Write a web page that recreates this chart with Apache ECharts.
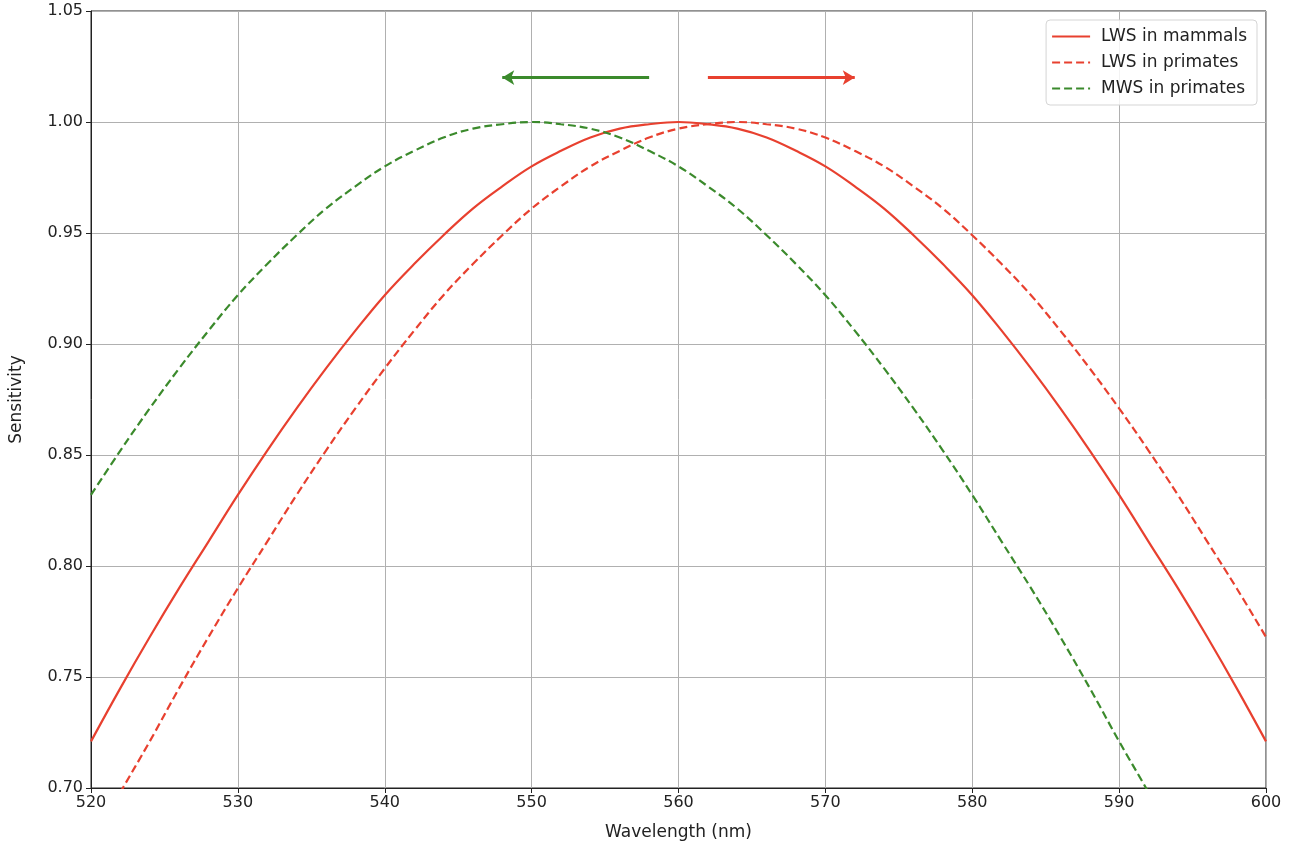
<!DOCTYPE html>
<html>
<head>
<meta charset="utf-8">
<script src="https://cdn.jsdelivr.net/npm/echarts@6/dist/echarts.min.js"></script>
<style>html,body{margin:0;padding:0;background:#fff;}#c{width:1292px;height:848px;}</style>
</head>
<body>
<div id="c"></div>
<script>
const wavelengths = [520,522,524,526,528,530,532,534,536,538,540,542,544,546,548,550,552,554,556,558,560,562,564,566,568,570,572,574,576,578,580,582,584,586,588,590,592,594,596,598,600];
const lwsMammals = [0.721,0.745,0.768,0.790,0.811,0.832,0.852,0.871,0.889,0.906,0.922,0.936,0.949,0.961,0.971,0.980,0.987,0.993,0.997,0.999,1.000,0.999,0.997,0.993,0.987,0.980,0.971,0.961,0.949,0.936,0.922,0.906,0.889,0.871,0.852,0.832,0.811,0.790,0.768,0.745,0.721];
const lwsPrimates = [0.674,0.698,0.721,0.745,0.768,0.790,0.811,0.832,0.852,0.871,0.889,0.906,0.922,0.936,0.949,0.961,0.971,0.980,0.987,0.993,0.997,0.999,1.000,0.999,0.997,0.993,0.987,0.980,0.971,0.961,0.949,0.936,0.922,0.906,0.889,0.871,0.852,0.832,0.811,0.790,0.768];
const mwsPrimates = [0.832,0.852,0.871,0.889,0.906,0.922,0.936,0.949,0.961,0.971,0.980,0.987,0.993,0.997,0.999,1.000,0.999,0.997,0.993,0.987,0.980,0.971,0.961,0.949,0.936,0.922,0.906,0.889,0.871,0.852,0.832,0.811,0.790,0.768,0.745,0.721,0.698,0.674,0.649,0.625,0.600];
const greenArrow = [[558,1.02],[548,1.02]];
const redArrow = [[562,1.02],[572,1.02]];
const seriesNames = ['LWS in mammals','LWS in primates','MWS in primates'];

const RED = '#e8402f', GREEN = '#3b8a2c';
const pair = (ys) => wavelengths.map((x,i)=>[x, ys[i]]);
const chart = echarts.init(document.getElementById('c'), null, {renderer:'canvas'});
const fontFam = 'DejaVu Sans';
const lineSeries = (name, ys, color, type) => ({
  name, type:'line', data:pair(ys), symbol:'circle', symbolSize:0, showSymbol:false,
  smooth:0.4, color, itemStyle:{color, opacity:0},
  lineStyle:{color, width:2.2, type}, clip:true, z:3
});
chart.setOption({
  animation:false,
  backgroundColor:'#fff',
  textStyle:{fontFamily:fontFam},
  grid:{left:90,right:26,top:11,bottom:60,show:true,borderColor:'#222',borderWidth:1,backgroundColor:'transparent'},
  legend:{
    data:seriesNames, orient:'vertical', right:35, top:20,
    itemWidth:38, itemHeight:12, itemGap:9,
    padding:[8,10,8,5],
    itemStyle:{opacity:0},
    borderColor:'#d5d5d5', borderWidth:1, borderRadius:4, backgroundColor:'rgba(255,255,255,0.85)',
    textStyle:{fontFamily:fontFam,fontSize:17,color:'#222',padding:[0,0,0,6]}
  },
  xAxis:{
    type:'value', min:520, max:600, interval:10,
    name:'Wavelength (nm)', nameLocation:'middle', nameGap:36,
    nameTextStyle:{fontFamily:fontFam,fontSize:17,color:'#222'},
    axisLine:{show:true,onZero:false,lineStyle:{color:'#222',width:1}},
    axisTick:{show:true,inside:false,length:5,lineStyle:{color:'#222'}},
    axisLabel:{fontFamily:fontFam,fontSize:16,color:'#222',margin:7},
    splitLine:{show:true,lineStyle:{color:'#b0b0b0',width:1}}
  },
  yAxis:{
    type:'value', min:0.70, max:1.05, interval:0.05,
    name:'Sensitivity', nameLocation:'middle', nameGap:66, nameRotate:90,
    nameTextStyle:{fontFamily:fontFam,fontSize:17,color:'#222'},
    axisLine:{show:true,onZero:false,lineStyle:{color:'#222',width:1}},
    axisTick:{show:true,inside:false,length:5,lineStyle:{color:'#222'}},
    axisLabel:{fontFamily:fontFam,fontSize:16,color:'#222',margin:8,formatter:v=>v.toFixed(2)},
    splitLine:{show:true,lineStyle:{color:'#b0b0b0',width:1}}
  },
  series:[
    lineSeries(seriesNames[0], lwsMammals, RED, 'solid'),
    lineSeries(seriesNames[1], lwsPrimates, RED, [8,4]),
    lineSeries(seriesNames[2], mwsPrimates, GREEN, [8,4]),
    {type:'line',data:[],silent:true,
      markLine:{silent:true,animation:false,symbol:['none','arrow'],symbolSize:[11,12],label:{show:false},
        lineStyle:{color:GREEN,width:3,type:'solid'},
        data:[[{coord:greenArrow[0]},{coord:greenArrow[1]}]]}},
    {type:'line',data:[],silent:true,
      markLine:{silent:true,animation:false,symbol:['none','arrow'],symbolSize:[11,12],label:{show:false},
        lineStyle:{color:RED,width:3,type:'solid'},
        data:[[{coord:redArrow[0]},{coord:redArrow[1]}]]}}
  ]
});
</script>
</body>
</html>
